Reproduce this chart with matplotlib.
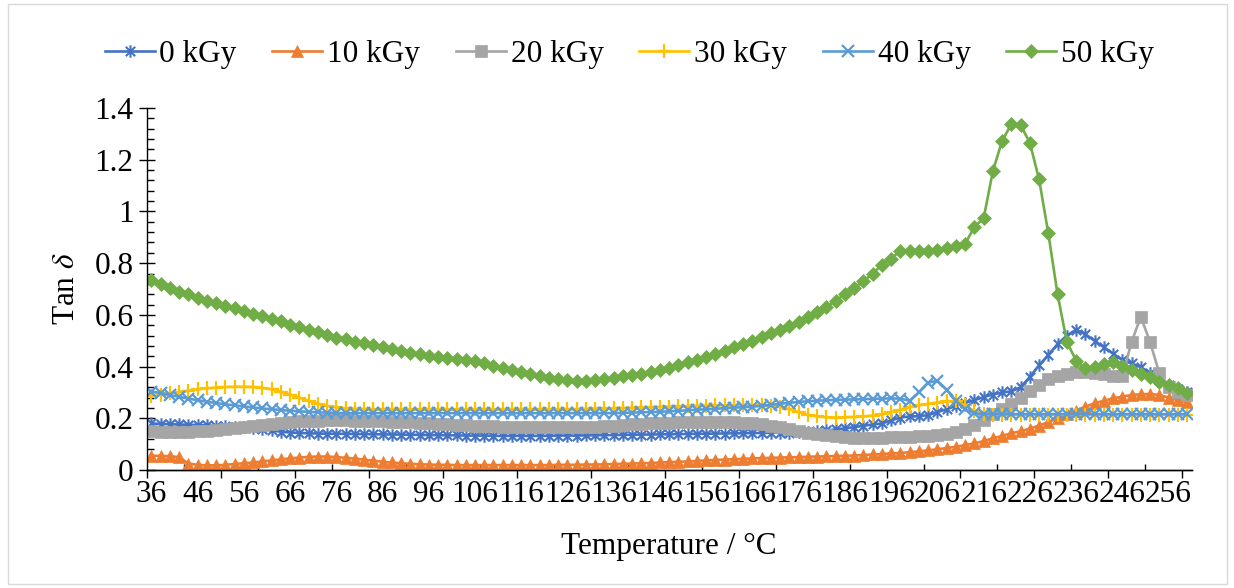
import matplotlib
matplotlib.use("Agg")
import matplotlib.pyplot as plt
from matplotlib.path import Path
from matplotlib.patches import Rectangle
from matplotlib.ticker import MultipleLocator, FuncFormatter

# temperature categories, 2 degC apart (36 ... 260)
temps = list(range(36, 262, 2))

tan_0 = [
    0.180, 0.178, 0.177, 0.176, 0.175, 0.174, 0.173, 0.172, 0.170, 0.168,
    0.165, 0.162, 0.158, 0.153, 0.148, 0.145, 0.143, 0.142, 0.141, 0.140,
    0.140, 0.140, 0.139, 0.139, 0.138, 0.138, 0.137, 0.137, 0.136, 0.136,
    0.135, 0.135, 0.134, 0.134, 0.133, 0.133, 0.133, 0.132, 0.132, 0.132,
    0.132, 0.132, 0.132, 0.132, 0.133, 0.133, 0.133, 0.134, 0.134, 0.135,
    0.135, 0.136, 0.136, 0.137, 0.137, 0.138, 0.138, 0.139, 0.139, 0.140,
    0.140, 0.141, 0.141, 0.142, 0.142, 0.143, 0.143, 0.144, 0.144, 0.145,
    0.146, 0.148, 0.150, 0.153, 0.157, 0.161, 0.166, 0.171, 0.176, 0.180,
    0.192, 0.203, 0.207, 0.208, 0.212, 0.224, 0.235, 0.248, 0.260, 0.270,
    0.282, 0.292, 0.300, 0.304, 0.320, 0.360, 0.405, 0.445, 0.487, 0.520,
    0.542, 0.525, 0.500, 0.475, 0.450, 0.425, 0.412, 0.398, 0.375, 0.350,
    0.330, 0.315, 0.300,
]
tan_10 = [
    0.055, 0.055, 0.053, 0.050, 0.025, 0.020, 0.018, 0.018, 0.020, 0.023,
    0.026, 0.029, 0.033, 0.037, 0.041, 0.045, 0.048, 0.051, 0.052, 0.052,
    0.050, 0.047, 0.044, 0.040, 0.036, 0.032, 0.029, 0.026, 0.024, 0.022,
    0.021, 0.020, 0.020, 0.019, 0.019, 0.019, 0.019, 0.019, 0.019, 0.019,
    0.019, 0.019, 0.019, 0.019, 0.020, 0.020, 0.020, 0.021, 0.021, 0.022,
    0.023, 0.024, 0.025, 0.026, 0.027, 0.029, 0.030, 0.032, 0.033, 0.035,
    0.037, 0.039, 0.040, 0.042, 0.043, 0.045, 0.046, 0.047, 0.048, 0.049,
    0.050, 0.051, 0.052, 0.053, 0.054, 0.055, 0.056, 0.058, 0.060, 0.062,
    0.064, 0.066, 0.069, 0.072, 0.076, 0.080, 0.085, 0.090, 0.096, 0.103,
    0.112, 0.122, 0.132, 0.142, 0.150, 0.160, 0.172, 0.185, 0.200, 0.215,
    0.230, 0.245, 0.258, 0.268, 0.277, 0.284, 0.290, 0.293, 0.294, 0.290,
    0.280, 0.270, 0.262,
]
tan_20 = [
    0.150, 0.148, 0.147, 0.147, 0.148, 0.150, 0.152, 0.155, 0.158, 0.162,
    0.166, 0.170, 0.174, 0.178, 0.182, 0.185, 0.188, 0.190, 0.191, 0.192,
    0.192, 0.192, 0.191, 0.190, 0.189, 0.188, 0.187, 0.186, 0.185, 0.183,
    0.181, 0.179, 0.177, 0.175, 0.173, 0.171, 0.170, 0.169, 0.168, 0.167,
    0.166, 0.166, 0.165, 0.165, 0.165, 0.165, 0.166, 0.167, 0.168, 0.170,
    0.172, 0.174, 0.176, 0.178, 0.180, 0.182, 0.183, 0.184, 0.185, 0.186,
    0.186, 0.186, 0.186, 0.185, 0.183, 0.180, 0.176, 0.171, 0.165, 0.159,
    0.152, 0.145, 0.139, 0.134, 0.130, 0.127, 0.125, 0.124, 0.124, 0.125,
    0.126, 0.127, 0.128, 0.130, 0.132, 0.135, 0.140, 0.148, 0.160, 0.175,
    0.195, 0.215, 0.235, 0.255, 0.280, 0.305, 0.330, 0.352, 0.365, 0.373,
    0.378, 0.378, 0.375, 0.370, 0.365, 0.362, 0.495, 0.593, 0.495, 0.375,
    0.320, 0.300, 0.290,
]
tan_30 = [
    0.288, 0.292, 0.297, 0.302, 0.307, 0.312, 0.316, 0.319, 0.321, 0.322,
    0.322, 0.321, 0.318, 0.312, 0.303, 0.292, 0.280, 0.268, 0.257, 0.248,
    0.242, 0.238, 0.236, 0.235, 0.234, 0.234, 0.234, 0.234, 0.234, 0.234,
    0.234, 0.234, 0.234, 0.234, 0.234, 0.234, 0.234, 0.234, 0.234, 0.234,
    0.234, 0.234, 0.234, 0.234, 0.234, 0.235, 0.235, 0.236, 0.237, 0.238,
    0.239, 0.240, 0.241, 0.242, 0.243, 0.244, 0.245, 0.246, 0.247, 0.248,
    0.249, 0.250, 0.250, 0.251, 0.251, 0.251, 0.250, 0.249, 0.245, 0.235,
    0.224, 0.213, 0.207, 0.204, 0.203, 0.204, 0.205, 0.207, 0.210, 0.215,
    0.224, 0.233, 0.242, 0.250, 0.256, 0.261, 0.265, 0.266, 0.250, 0.228,
    0.216, 0.214, 0.214, 0.214, 0.214, 0.214, 0.214, 0.214, 0.214, 0.214,
    0.214, 0.214, 0.214, 0.214, 0.214, 0.214, 0.214, 0.214, 0.214, 0.214,
    0.214, 0.214, 0.214,
]
tan_40 = [
    0.303, 0.298, 0.290, 0.283, 0.276, 0.270, 0.264, 0.259, 0.254, 0.250,
    0.246, 0.242, 0.238, 0.235, 0.232, 0.229, 0.227, 0.225, 0.223, 0.222,
    0.221, 0.220, 0.220, 0.220, 0.220, 0.220, 0.220, 0.220, 0.220, 0.220,
    0.220, 0.220, 0.220, 0.220, 0.220, 0.220, 0.220, 0.220, 0.220, 0.220,
    0.220, 0.220, 0.220, 0.220, 0.220, 0.220, 0.220, 0.220, 0.220, 0.220,
    0.220, 0.221, 0.222, 0.223, 0.224, 0.225, 0.227, 0.229, 0.231, 0.233,
    0.235, 0.237, 0.239, 0.241, 0.243, 0.245, 0.248, 0.252, 0.256, 0.260,
    0.263, 0.266, 0.268, 0.270, 0.271, 0.272, 0.273, 0.274, 0.275, 0.276,
    0.277, 0.276, 0.268, 0.300, 0.338, 0.345, 0.310, 0.268, 0.235, 0.220,
    0.216, 0.216, 0.216, 0.216, 0.216, 0.216, 0.216, 0.216, 0.216, 0.216,
    0.216, 0.216, 0.216, 0.216, 0.216, 0.216, 0.216, 0.216, 0.216, 0.216,
    0.216, 0.216, 0.216,
]
tan_50 = [
    0.735, 0.720, 0.705, 0.690, 0.680, 0.665, 0.655, 0.645, 0.635, 0.625,
    0.615, 0.605, 0.595, 0.585, 0.575, 0.562, 0.552, 0.542, 0.532, 0.522,
    0.512, 0.505, 0.497, 0.490, 0.482, 0.475, 0.468, 0.461, 0.454, 0.448,
    0.442, 0.437, 0.433, 0.430, 0.426, 0.422, 0.412, 0.402, 0.394, 0.386,
    0.378, 0.370, 0.363, 0.357, 0.352, 0.348, 0.346, 0.346, 0.348, 0.352,
    0.357, 0.362, 0.367, 0.372, 0.378, 0.385, 0.395, 0.405, 0.416, 0.427,
    0.438, 0.450, 0.462, 0.474, 0.487, 0.500, 0.514, 0.528, 0.543, 0.558,
    0.574, 0.590, 0.610, 0.630, 0.655, 0.680, 0.705, 0.730, 0.760, 0.793,
    0.818, 0.848, 0.848, 0.848, 0.848, 0.850, 0.857, 0.866, 0.874, 0.941,
    0.973, 1.156, 1.273, 1.338, 1.334, 1.266, 1.124, 0.915, 0.679, 0.496,
    0.423, 0.393, 0.400, 0.410, 0.419, 0.402, 0.387, 0.371, 0.358, 0.341,
    0.329, 0.316, 0.299,
]

series_names = ["0 kGy", "10 kGy", "20 kGy", "30 kGy", "40 kGy", "50 kGy"]
series_data = [tan_0, tan_10, tan_20, tan_30, tan_40, tan_50]

# excel-like "star" marker: an x with a vertical bar
star = Path([(0, -1), (0, 1), (-0.75, -0.75), (0.75, 0.75), (-0.75, 0.75), (0.75, -0.75)],
            [Path.MOVETO, Path.LINETO] * 3)

styles = [
    dict(color="#4472C4", marker=star, ms=9, mew=1.5),
    dict(color="#ED7D31", marker="^", ms=9, mew=0.5),
    dict(color="#A5A5A5", marker="s", ms=8.5, mew=0.5),
    dict(color="#FFC000", marker="+", ms=9.5, mew=1.6),
    dict(color="#5B9BD5", marker="x", ms=8, mew=1.6),
    dict(color="#70AD47", marker="D", ms=7, mew=0.5),
]

FS = 22.5
plt.rcParams["font.family"] = ["Liberation Serif", "DejaVu Serif"]
plt.rcParams["mathtext.fontset"] = "stix"
plt.rcParams["font.size"] = FS

fig = plt.figure(figsize=(12.34, 5.88), dpi=100)
ax = fig.add_axes([0.1189, 0.2007, 0.8468, 0.6155])

idx = list(range(len(temps)))
for name, vals, st in zip(series_names, series_data, styles):
    ax.plot(idx, vals, color=st["color"], lw=1.9, marker=st["marker"],
            ms=st["ms"], mew=st["mew"], mec=st["color"], mfc=st["color"],
            label=name)

ax.set_xlim(-0.5, len(temps) - 0.5)
ax.set_ylim(0, 1.4)

# labels every 5th category, no marks on the main axis
lab_pos = idx[::5]
ax.set_xticks(lab_pos, [str(temps[i]) for i in lab_pos])
ax.tick_params(axis="x", length=0, pad=7, labelsize=FS)

# tick marks sit on the category boundaries
sec = ax.secondary_xaxis("bottom")
sec.set_xticks([-0.5 + 8 * m for m in range(15)])
sec.set_xticks([3.5 + 8 * m for m in range(14)] + [111.5], minor=True)
sec.tick_params(which="major", direction="out", length=6, width=1, labelbottom=False)
sec.tick_params(which="minor", direction="in", length=4.5, width=1)
sec.spines["bottom"].set_linewidth(1)

ax.set_yticks([0, 0.2, 0.4, 0.6, 0.8, 1.0, 1.2, 1.4])
ax.yaxis.set_minor_locator(MultipleLocator(0.04))
ax.yaxis.set_major_formatter(FuncFormatter(lambda v, p: f"{v:g}"))
ax.tick_params(axis="y", which="major", direction="inout", length=11, width=1, pad=4, labelsize=FS)
ax.tick_params(axis="y", which="minor", direction="in", length=5, width=1)

for s in ["top", "right"]:
    ax.spines[s].set_visible(False)
for s in ["left", "bottom"]:
    ax.spines[s].set_linewidth(1)

ax.set_xlabel("Temperature / \u00b0C", fontsize=FS, labelpad=17)
ax.set_ylabel("Tan $\\delta$", fontsize=FS, labelpad=10)

fig.legend(loc="center", bbox_to_anchor=(0.51, 0.907), ncol=6, frameon=False,
           fontsize=FS, handlelength=1.6, handletextpad=0.15, columnspacing=1.15,
           numpoints=1)

# chart area border
fig.patches.append(Rectangle((8 / 1234, 4 / 588), 1219 / 1234, 580 / 588,
                             transform=fig.transFigure, fill=False,
                             ec="#D9D9D9", lw=1))

fig.savefig("out.png", dpi=100)
